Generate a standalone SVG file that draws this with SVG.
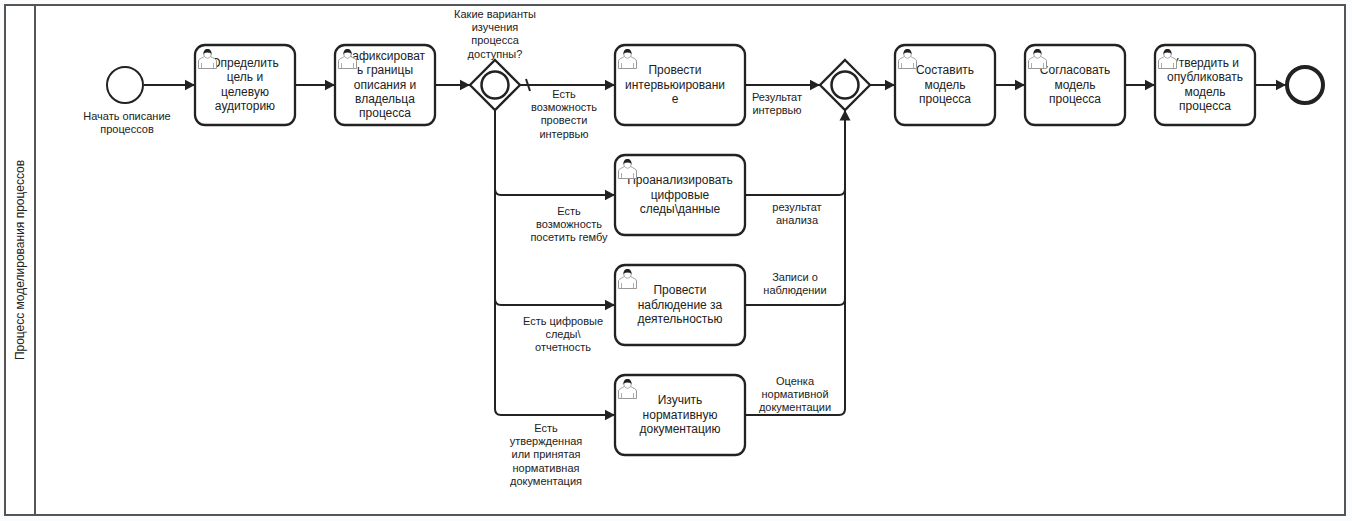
<svg xmlns="http://www.w3.org/2000/svg" width="1352" height="521" viewBox="0 0 1352 521">
<style>
text{font-family:"Liberation Sans",Arial,sans-serif;fill:#222;text-anchor:middle}
.t{font-size:12px}
.l{font-size:11px}
.task{fill:#fff;stroke:#222;stroke-width:2.300}
.c{fill:none;stroke:#222;stroke-width:2}
.gw{fill:#fff;stroke:#222;stroke-width:2.300}
</style>
<defs>
<marker id="a" markerUnits="userSpaceOnUse" markerWidth="11" markerHeight="12" refX="10.500" refY="6" orient="auto"><path d="M0 .5L10.500 6L0 11.500Z" fill="#222"/></marker>
<g id="u">
<path d="M.5 19.500V12C.5 10 4 9 6.500 7.500C5 4.500 6 1 9.500 1S14 4.500 12.500 7.500C15 9 18.500 10 18.500 12V19.500Z" fill="#fff" stroke="#999" stroke-width="1"/>
<path d="M3.500 19.500V14M15.500 19.500V14M6.500 7.500Q9.500 11 12.500 7.500" stroke="#999" fill="none" stroke-width=".8"/>
<path d="M5.700 5.500C5 2 7 0 9.500 0S14 2 13.300 5.500L12.500 4C11 3.200 8 3.200 6.500 4Z" fill="#222"/>
</g>
</defs>
<rect width="1352" height="521" fill="#fbfcfd"/>
<g id="pool">
<rect x="5" y="5" width="1340" height="510" fill="#fff" stroke="#555" stroke-width="2"/>
<path d="M35 5V515" stroke="#555" stroke-width="2"/>
<text class="t" transform="translate(24 260) rotate(-90)">Процесс моделирования процессов</text>
</g>
<g id="connectors">
<path class="c" marker-end="url(#a)" d="M144 85H195"/>
<path class="c" marker-end="url(#a)" d="M295 85H335"/>
<path class="c" marker-end="url(#a)" d="M435 85H470"/>
<path class="c" marker-end="url(#a)" d="M520 85H615"/>
<path class="c" d="M526 79L530 91" stroke-width="1.500"/>
<path class="c" marker-end="url(#a)" d="M495 110V189Q495 195 501 195H615"/>
<path class="c" marker-end="url(#a)" d="M495 190V299Q495 305 501 305H615"/>
<path class="c" marker-end="url(#a)" d="M495 300V409Q495 415 501 415H615"/>
<path class="c" marker-end="url(#a)" d="M745 85H820"/>
<path class="c" d="M745 195H839Q845 195 845 189"/>
<path class="c" d="M745 305H839Q845 305 845 299"/>
<path class="c" marker-end="url(#a)" d="M745 415H839Q845 415 845 409V110"/>
<path class="c" marker-end="url(#a)" d="M870 85H895"/>
<path class="c" marker-end="url(#a)" d="M995 85H1025"/>
<path class="c" marker-end="url(#a)" d="M1125 85H1155"/>
<path class="c" marker-end="url(#a)" d="M1255 85H1286"/>
</g>
<g id="start"><circle cx="125" cy="85" r="18" fill="#fff" stroke="#222" stroke-width="2"/>
<text class="l"><tspan x="127" y="120">Начать описание</tspan><tspan x="127" y="133">процессов</tspan></text></g>
<g id="task1"><rect class="task" x="195" y="45" width="100" height="80" rx="10"/>
<text class="t"><tspan x="245" y="67">Определить</tspan><tspan x="245" y="81">цель и</tspan><tspan x="245" y="96">целевую</tspan><tspan x="245" y="110">аудиторию</tspan></text><use href="#u" x="198" y="49"/></g>
<g id="task2"><rect class="task" x="335" y="45" width="100" height="80" rx="10"/>
<text class="t"><tspan x="385" y="60">Зафиксироват</tspan><tspan x="385" y="74">ь границы</tspan><tspan x="385" y="89">описания и</tspan><tspan x="385" y="103">владельца</tspan><tspan x="385" y="117">процесса</tspan></text><use href="#u" x="338" y="49"/></g>
<g id="gateway1"><path class="gw" d="M495 60L520 85L495 110L470 85Z"/><circle cx="495" cy="85" r="13.500" fill="none" stroke="#222" stroke-width="2.500"/>
<text class="l"><tspan x="495" y="18">Какие варианты</tspan><tspan x="495" y="31">изучения</tspan><tspan x="495" y="44">процесса</tspan><tspan x="495" y="58">доступны?</tspan></text></g>
<g id="task3"><rect class="task" x="615" y="45" width="130" height="80" rx="10"/>
<text class="t"><tspan x="675" y="74">Провести</tspan><tspan x="675" y="89">интервьюировани</tspan><tspan x="675" y="103">е</tspan></text><use href="#u" x="618" y="49"/></g>
<g id="task4"><rect class="task" x="615" y="155" width="130" height="80" rx="10"/>
<text class="t"><tspan x="680" y="184">Проанализировать</tspan><tspan x="680" y="199">цифровые</tspan><tspan x="680" y="213">следы\данные</tspan></text><use href="#u" x="618" y="159"/></g>
<g id="task5"><rect class="task" x="615" y="265" width="130" height="80" rx="10"/>
<text class="t"><tspan x="680" y="294">Провести</tspan><tspan x="680" y="309">наблюдение за</tspan><tspan x="680" y="323">деятельностью</tspan></text><use href="#u" x="618" y="269"/></g>
<g id="task6"><rect class="task" x="615" y="375" width="130" height="80" rx="10"/>
<text class="t"><tspan x="680" y="404">Изучить</tspan><tspan x="680" y="419">нормативную</tspan><tspan x="680" y="433">документацию</tspan></text><use href="#u" x="618" y="379"/></g>
<g id="gateway2"><path class="gw" d="M845 60L870 85L845 110L820 85Z"/><circle cx="845" cy="85" r="13.500" fill="none" stroke="#222" stroke-width="2.500"/></g>
<g id="task7"><rect class="task" x="895" y="45" width="100" height="80" rx="10"/>
<text class="t"><tspan x="945" y="74">Составить</tspan><tspan x="945" y="89">модель</tspan><tspan x="945" y="103">процесса</tspan></text><use href="#u" x="898" y="49"/></g>
<g id="task8"><rect class="task" x="1025" y="45" width="100" height="80" rx="10"/>
<text class="t"><tspan x="1075" y="74">Согласовать</tspan><tspan x="1075" y="89">модель</tspan><tspan x="1075" y="103">процесса</tspan></text><use href="#u" x="1028" y="49"/></g>
<g id="task9"><rect class="task" x="1155" y="45" width="100" height="80" rx="10"/>
<text class="t"><tspan x="1205" y="67">Утвердить и</tspan><tspan x="1205" y="81">опубликовать</tspan><tspan x="1205" y="96">модель</tspan><tspan x="1205" y="110">процесса</tspan></text><use href="#u" x="1158" y="49"/></g>
<g id="end"><circle cx="1305" cy="85" r="18" fill="#fff" stroke="#222" stroke-width="4"/></g>
<g id="labels">
<text class="l"><tspan x="564" y="98">Есть</tspan><tspan x="564" y="111">возможность</tspan><tspan x="564" y="124">провести</tspan><tspan x="564" y="138">интервью</tspan></text>
<text class="l"><tspan x="777" y="101">Результат</tspan><tspan x="777" y="114">интервью</tspan></text>
<text class="l"><tspan x="569" y="215">Есть</tspan><tspan x="569" y="228">возможность</tspan><tspan x="569" y="241">посетить гембу</tspan></text>
<text class="l"><tspan x="797" y="211">результат</tspan><tspan x="797" y="224">анализа</tspan></text>
<text class="l"><tspan x="563" y="325">Есть цифровые</tspan><tspan x="563" y="338">следы\</tspan><tspan x="563" y="351">отчетность</tspan></text>
<text class="l"><tspan x="795" y="281">Записи о</tspan><tspan x="795" y="294">наблюдении</tspan></text>
<text class="l"><tspan x="546" y="432">Есть</tspan><tspan x="546" y="445">утвержденная</tspan><tspan x="546" y="458">или принятая</tspan><tspan x="546" y="472">нормативная</tspan><tspan x="546" y="485">документация</tspan></text>
<text class="l"><tspan x="795" y="385">Оценка</tspan><tspan x="795" y="398">нормативной</tspan><tspan x="795" y="411">документации</tspan></text>
</g>
</svg>
